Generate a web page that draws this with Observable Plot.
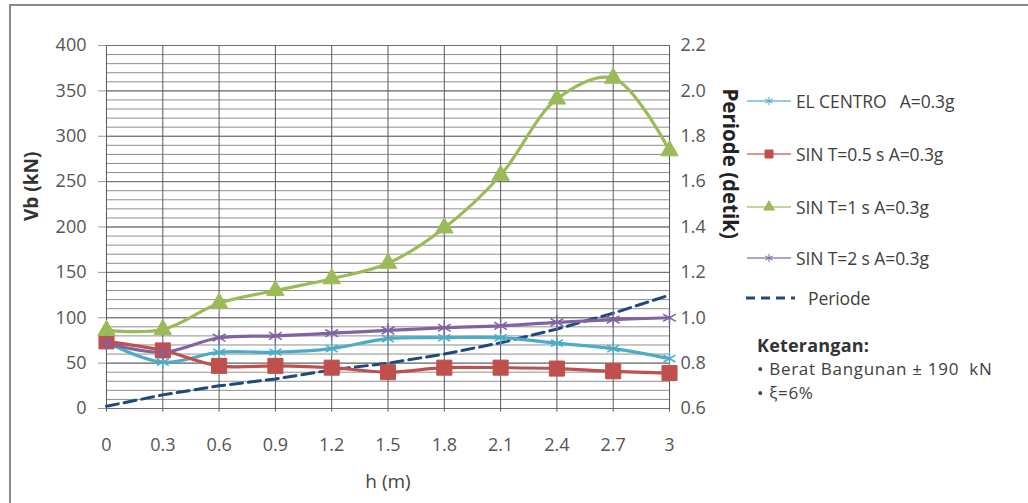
<!DOCTYPE html>
<html>
<head>
<meta charset="utf-8">
<script src="https://cdn.jsdelivr.net/npm/d3@7"></script>
<script src="https://cdn.jsdelivr.net/npm/@observablehq/plot@0.6"></script>
<style>
  html, body { margin: 0; padding: 0; background: #fff; }
  #wrap { position: relative; width: 1028px; height: 503px; overflow: hidden; font-family: "Open Sans", sans-serif; }
  #frameTop { position: absolute; left: 9px; top: 4px; width: 1019px; height: 2px; background: #8a8a8a; }
  #frameLeft { position: absolute; left: 9px; top: 4px; width: 2px; height: 499px; background: #8a8a8a; }
  #chart { position: absolute; left: 0; top: 0; }
  .leg { position: absolute; left: 745px; height: 24px; display: flex; align-items: center; color: #404040; font-size: 17.5px; white-space: pre; letter-spacing: -0.1px; }
  .leg svg { margin-right: 3px; }
  .note { position: absolute; left: 757px; color: #404040; font-size: 17px; line-height: 24px; height: 24px; white-space: pre; letter-spacing: 0.7px; }
</style>
</head>
<body>
<div id="wrap">
  <div id="chart"></div>
  <div id="frameTop"></div>
  <div id="frameLeft"></div>
  <div id="legend"></div>
</div>
<script>
// ---- data ----
const hs = [0, 0.3, 0.6, 0.9, 1.2, 1.5, 1.8, 2.1, 2.4, 2.7, 3];
const elCentro = [73, 51, 62, 62, 66, 77, 78, 78, 72, 66, 55];
const sin05 = [74, 64, 47, 47, 45, 40, 45, 45, 44, 41, 39];
const sin1 = [86, 87, 116, 130, 143, 160, 199, 257, 341, 364, 284];
const sin2 = [72, 62, 78, 80, 83, 86, 89, 91, 95, 98, 100];
const periode = [0.61, 0.66, 0.70, 0.73, 0.77, 0.80, 0.84, 0.89, 0.95, 1.02, 1.10];
const vbTicks = [0, 50, 100, 150, 200, 250, 300, 350, 400];
const periodeTicks = [0.6, 0.8, 1.0, 1.2, 1.4, 1.6, 1.8, 2.0, 2.2];
const seriesNames = ["EL CENTRO   A=0.3g", "SIN T=0.5 s A=0.3g", "SIN T=1 s A=0.3g", "SIN T=2 s A=0.3g", "Periode"];
const notes = ["Keterangan:", "• Berat Bangunan ± 190  kN", "• ξ=6%"];

const colors = ["#4BACC6", "#C0504D", "#9BBB59", "#8064A2", "#1F497D"];
const symbols = ["asterisk", "square", "triangle", "asterisk"];
const radii = [6.5, 8.5, 6.5, 7];

// map Periode (right axis) onto Vb scale: 0.6 -> 0, 2.2 -> 400
const pToV = p => (p - 0.6) * 250;
const vToP = v => v / 250 + 0.6;

const series = [elCentro, sin05, sin1, sin2].map((vals, i) =>
  hs.map((h, j) => ({h, v: vals[j], s: i})));
const perData = hs.map((h, j) => ({h, v: pToV(periode[j])}));

const marks = [
  Plot.ruleY(d3.range(0, 401, 10), {stroke: "#8f8f8f", strokeWidth: 1}),
  Plot.ruleY(vbTicks, {stroke: "#707070", strokeWidth: 1}),
  Plot.ruleX(hs, {y1: -4, y2: 400, stroke: "#5a5a5a", strokeWidth: 1}),
  Plot.axisY(vbTicks, {anchor: "left", tickSize: 8, tickPadding: 12, fontSize: 18, color: "#555", stroke: "#999", label: null}),
  Plot.axisY(periodeTicks.map(pToV), {anchor: "right", tickSize: 0, tickPadding: 11, fontSize: 18, color: "#555", label: null, tickFormat: v => vToP(v).toFixed(1)}),
  Plot.axisX(hs, {tickSize: 0, tickPadding: 30, fontSize: 18, color: "#555", label: null, tickFormat: d => String(+d.toFixed(1))}),
  Plot.text(["Vb (kN)"], {frameAnchor: "left", rotate: -90, dx: -75, dy: -6, fontSize: 19, fontWeight: "bold", fill: "#333"}),
  Plot.text(["Periode (detik)"], {frameAnchor: "right", rotate: 90, dx: 60, dy: 12, fontSize: 20.5, fontWeight: "bold", fill: "#222"}),
  Plot.text(["h (m)"], {frameAnchor: "bottom", dy: 79, dx: 0, fontSize: 19, fill: "#444"}),
  Plot.line(perData, {x: "h", y: "v", stroke: colors[4], strokeWidth: 3, strokeDasharray: "12,6"})
];
series.forEach((d, i) => {
  marks.push(Plot.line(d, {x: "h", y: "v", stroke: colors[i], strokeWidth: 3.2, curve: "catmull-rom"}));
});
series.forEach((d, i) => {
  const filled = symbols[i] === "square" || symbols[i] === "triangle";
  marks.push(Plot.dot(d, {x: "h", y: "v", symbol: () => symbols[i], r: radii[i],
    fill: filled ? colors[i] : "none", stroke: colors[i], strokeWidth: filled ? 1 : 1.5}));
});

const chart = Plot.plot({
  width: 744,
  height: 503,
  marginLeft: 106,
  marginRight: 75,
  marginTop: 45,
  marginBottom: 95,
  style: {background: "transparent", fontFamily: "Open Sans, sans-serif", overflow: "visible"},
  x: {domain: [0, 3], axis: null},
  y: {domain: [0, 400], axis: null},
  symbol: {type: "identity"},
  marks
});
document.getElementById("chart").appendChild(chart);

// ---- legend ----
const leg = document.getElementById("legend");
const rowY = [89, 142, 195, 246, 286];
const symPath = {
  asterisk: d3.symbol(d3.symbolAsterisk, 50)(),
  square: d3.symbol(d3.symbolSquare, 64)(),
  triangle: d3.symbol(d3.symbolTriangle, 50)()
};
seriesNames.forEach((name, i) => {
  const div = document.createElement("div");
  div.className = "leg";
  div.style.top = rowY[i] + "px";
  let sw;
  if (i < 4) {
    const s = symbols[i];
    const filled = s !== "asterisk";
    sw = `<svg width="48" height="20"><line x1="2" y1="10" x2="46" y2="10" stroke="${colors[i]}" stroke-width="1.5" opacity="0.8"/>` +
      `<path transform="translate(24,10)" d="${symPath[s]}" fill="${filled ? colors[i] : "none"}" stroke="${colors[i]}" stroke-width="1"/></svg>`;
  } else {
    sw = `<svg width="60" height="20"><line x1="1" y1="10" x2="50" y2="10" stroke="${colors[4]}" stroke-width="3" stroke-dasharray="9,6"/></svg>`;
  }
  div.innerHTML = sw + `<span>${name}</span>`;
  leg.appendChild(div);
});
const noteY = [333, 357, 381];
notes.forEach((t, i) => {
  const div = document.createElement("div");
  div.className = "note";
  div.style.top = noteY[i] + "px";
  if (i === 0) { div.style.fontWeight = "bold"; div.style.color = "#333"; div.style.fontSize = "18px"; div.style.letterSpacing = "0.2px"; }
  div.textContent = t;
  leg.appendChild(div);
});
</script>
</body>
</html>
